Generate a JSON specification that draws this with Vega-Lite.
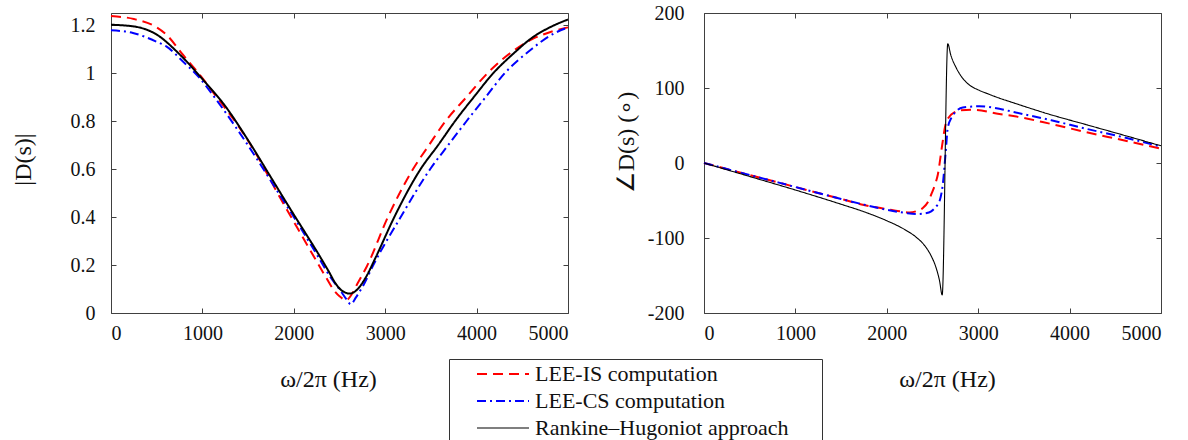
{
  "$schema": "https://vega.github.io/schema/vega-lite/v6.json",
  "padding": {"left": 11, "top": 3, "right": 5, "bottom": 0},
  "background": "white",
  "bounds": "flush",
  "spacing": 136,
  "config": {
    "font": "Liberation Serif",
    "view": {"stroke": null},
    "axis": {
      "grid": false,
      "domainColor": "#404040",
      "tickColor": "#404040",
      "tickSize": -5,
      "domainWidth": 1,
      "tickWidth": 1,
      "labelFont": "Liberation Serif",
      "labelFontSize": 20,
      "labelColor": "#111111",
      "titleFont": "Liberation Serif",
      "titleFontWeight": "normal",
      "titleColor": "#111111",
      "titleFontSize": 24
    }
  },
  "datasets": {
    "mag": [
      {"s": "LEE-IS computation", "f": 0, "v": 1.237},
      {"s": "LEE-IS computation", "f": 250, "v": 1.225},
      {"s": "LEE-IS computation", "f": 500, "v": 1.19},
      {"s": "LEE-IS computation", "f": 605, "v": 1.16},
      {"s": "LEE-IS computation", "f": 787, "v": 1.076},
      {"s": "LEE-IS computation", "f": 970, "v": 0.993},
      {"s": "LEE-IS computation", "f": 1152, "v": 0.902},
      {"s": "LEE-IS computation", "f": 1408, "v": 0.771},
      {"s": "LEE-IS computation", "f": 1600, "v": 0.655},
      {"s": "LEE-IS computation", "f": 1800, "v": 0.515},
      {"s": "LEE-IS computation", "f": 2064, "v": 0.338},
      {"s": "LEE-IS computation", "f": 2250, "v": 0.215},
      {"s": "LEE-IS computation", "f": 2350, "v": 0.15},
      {"s": "LEE-IS computation", "f": 2429, "v": 0.1},
      {"s": "LEE-IS computation", "f": 2500, "v": 0.07},
      {"s": "LEE-IS computation", "f": 2575, "v": 0.053},
      {"s": "LEE-IS computation", "f": 2620, "v": 0.07},
      {"s": "LEE-IS computation", "f": 2700, "v": 0.125},
      {"s": "LEE-IS computation", "f": 2800, "v": 0.195},
      {"s": "LEE-IS computation", "f": 3030, "v": 0.4},
      {"s": "LEE-IS computation", "f": 3305, "v": 0.6},
      {"s": "LEE-IS computation", "f": 3480, "v": 0.7},
      {"s": "LEE-IS computation", "f": 3661, "v": 0.8},
      {"s": "LEE-IS computation", "f": 3890, "v": 0.9},
      {"s": "LEE-IS computation", "f": 4121, "v": 1.0},
      {"s": "LEE-IS computation", "f": 4394, "v": 1.09},
      {"s": "LEE-IS computation", "f": 4603, "v": 1.14},
      {"s": "LEE-IS computation", "f": 4800, "v": 1.17},
      {"s": "LEE-IS computation", "f": 5000, "v": 1.19},
      {"s": "LEE-CS computation", "f": 0, "v": 1.178},
      {"s": "LEE-CS computation", "f": 240, "v": 1.167},
      {"s": "LEE-CS computation", "f": 500, "v": 1.13},
      {"s": "LEE-CS computation", "f": 605, "v": 1.111},
      {"s": "LEE-CS computation", "f": 787, "v": 1.048},
      {"s": "LEE-CS computation", "f": 970, "v": 0.979},
      {"s": "LEE-CS computation", "f": 1152, "v": 0.889},
      {"s": "LEE-CS computation", "f": 1371, "v": 0.771},
      {"s": "LEE-CS computation", "f": 1600, "v": 0.64},
      {"s": "LEE-CS computation", "f": 1800, "v": 0.52},
      {"s": "LEE-CS computation", "f": 2000, "v": 0.4},
      {"s": "LEE-CS computation", "f": 2250, "v": 0.245},
      {"s": "LEE-CS computation", "f": 2400, "v": 0.15},
      {"s": "LEE-CS computation", "f": 2520, "v": 0.088},
      {"s": "LEE-CS computation", "f": 2580, "v": 0.055},
      {"s": "LEE-CS computation", "f": 2623, "v": 0.036},
      {"s": "LEE-CS computation", "f": 2680, "v": 0.065},
      {"s": "LEE-CS computation", "f": 2760, "v": 0.115},
      {"s": "LEE-CS computation", "f": 2870, "v": 0.2},
      {"s": "LEE-CS computation", "f": 3170, "v": 0.4},
      {"s": "LEE-CS computation", "f": 3493, "v": 0.6},
      {"s": "LEE-CS computation", "f": 3690, "v": 0.7},
      {"s": "LEE-CS computation", "f": 3891, "v": 0.8},
      {"s": "LEE-CS computation", "f": 4100, "v": 0.9},
      {"s": "LEE-CS computation", "f": 4310, "v": 1.0},
      {"s": "LEE-CS computation", "f": 4603, "v": 1.1},
      {"s": "LEE-CS computation", "f": 4800, "v": 1.155},
      {"s": "LEE-CS computation", "f": 5000, "v": 1.19},
      {"s": "Rankine–Hugoniot approach", "f": 0, "v": 1.201},
      {"s": "Rankine–Hugoniot approach", "f": 250, "v": 1.194},
      {"s": "Rankine–Hugoniot approach", "f": 500, "v": 1.16},
      {"s": "Rankine–Hugoniot approach", "f": 750, "v": 1.078},
      {"s": "Rankine–Hugoniot approach", "f": 1000, "v": 0.975},
      {"s": "Rankine–Hugoniot approach", "f": 1250, "v": 0.862},
      {"s": "Rankine–Hugoniot approach", "f": 1500, "v": 0.72},
      {"s": "Rankine–Hugoniot approach", "f": 1750, "v": 0.565},
      {"s": "Rankine–Hugoniot approach", "f": 2000, "v": 0.41},
      {"s": "Rankine–Hugoniot approach", "f": 2119, "v": 0.338},
      {"s": "Rankine–Hugoniot approach", "f": 2250, "v": 0.258},
      {"s": "Rankine–Hugoniot approach", "f": 2375, "v": 0.178},
      {"s": "Rankine–Hugoniot approach", "f": 2466, "v": 0.118},
      {"s": "Rankine–Hugoniot approach", "f": 2530, "v": 0.092},
      {"s": "Rankine–Hugoniot approach", "f": 2580, "v": 0.083},
      {"s": "Rankine–Hugoniot approach", "f": 2612, "v": 0.081},
      {"s": "Rankine–Hugoniot approach", "f": 2650, "v": 0.085},
      {"s": "Rankine–Hugoniot approach", "f": 2700, "v": 0.1},
      {"s": "Rankine–Hugoniot approach", "f": 2790, "v": 0.15},
      {"s": "Rankine–Hugoniot approach", "f": 2900, "v": 0.235},
      {"s": "Rankine–Hugoniot approach", "f": 3100, "v": 0.4},
      {"s": "Rankine–Hugoniot approach", "f": 3388, "v": 0.6},
      {"s": "Rankine–Hugoniot approach", "f": 3580, "v": 0.7},
      {"s": "Rankine–Hugoniot approach", "f": 3765, "v": 0.8},
      {"s": "Rankine–Hugoniot approach", "f": 3970, "v": 0.9},
      {"s": "Rankine–Hugoniot approach", "f": 4184, "v": 1.0},
      {"s": "Rankine–Hugoniot approach", "f": 4415, "v": 1.085},
      {"s": "Rankine–Hugoniot approach", "f": 4600, "v": 1.145},
      {"s": "Rankine–Hugoniot approach", "f": 4800, "v": 1.19},
      {"s": "Rankine–Hugoniot approach", "f": 5000, "v": 1.223}
    ],
    "phase": [
      {"s": "LEE-IS computation", "f": 0, "v": 0},
      {"s": "LEE-IS computation", "f": 500, "v": -16},
      {"s": "LEE-IS computation", "f": 1000, "v": -32},
      {"s": "LEE-IS computation", "f": 1500, "v": -48},
      {"s": "LEE-IS computation", "f": 1750, "v": -56},
      {"s": "LEE-IS computation", "f": 2000, "v": -61.5},
      {"s": "LEE-IS computation", "f": 2140, "v": -64.4},
      {"s": "LEE-IS computation", "f": 2250, "v": -66},
      {"s": "LEE-IS computation", "f": 2330, "v": -64},
      {"s": "LEE-IS computation", "f": 2394, "v": -60},
      {"s": "LEE-IS computation", "f": 2450, "v": -52},
      {"s": "LEE-IS computation", "f": 2486, "v": -42},
      {"s": "LEE-IS computation", "f": 2530, "v": -28},
      {"s": "LEE-IS computation", "f": 2558, "v": -15.6},
      {"s": "LEE-IS computation", "f": 2606, "v": 24},
      {"s": "LEE-IS computation", "f": 2642, "v": 51},
      {"s": "LEE-IS computation", "f": 2686, "v": 62},
      {"s": "LEE-IS computation", "f": 2740, "v": 67.5},
      {"s": "LEE-IS computation", "f": 2795, "v": 70},
      {"s": "LEE-IS computation", "f": 2940, "v": 71},
      {"s": "LEE-IS computation", "f": 3231, "v": 65.3},
      {"s": "LEE-IS computation", "f": 3367, "v": 63},
      {"s": "LEE-IS computation", "f": 3800, "v": 52},
      {"s": "LEE-IS computation", "f": 4186, "v": 41},
      {"s": "LEE-IS computation", "f": 4600, "v": 30},
      {"s": "LEE-IS computation", "f": 5000, "v": 19},
      {"s": "LEE-CS computation", "f": 0, "v": 0},
      {"s": "LEE-CS computation", "f": 500, "v": -16},
      {"s": "LEE-CS computation", "f": 1000, "v": -32},
      {"s": "LEE-CS computation", "f": 1500, "v": -48},
      {"s": "LEE-CS computation", "f": 1750, "v": -55.5},
      {"s": "LEE-CS computation", "f": 2067, "v": -64},
      {"s": "LEE-CS computation", "f": 2200, "v": -66.5},
      {"s": "LEE-CS computation", "f": 2322, "v": -68},
      {"s": "LEE-CS computation", "f": 2420, "v": -67},
      {"s": "LEE-CS computation", "f": 2486, "v": -64.4},
      {"s": "LEE-CS computation", "f": 2540, "v": -58},
      {"s": "LEE-CS computation", "f": 2577, "v": -51},
      {"s": "LEE-CS computation", "f": 2612, "v": -29},
      {"s": "LEE-CS computation", "f": 2642, "v": 11},
      {"s": "LEE-CS computation", "f": 2667, "v": 46.7},
      {"s": "LEE-CS computation", "f": 2710, "v": 61},
      {"s": "LEE-CS computation", "f": 2759, "v": 69},
      {"s": "LEE-CS computation", "f": 2831, "v": 74},
      {"s": "LEE-CS computation", "f": 3013, "v": 75.6},
      {"s": "LEE-CS computation", "f": 3231, "v": 72.4},
      {"s": "LEE-CS computation", "f": 3367, "v": 68.6},
      {"s": "LEE-CS computation", "f": 3800, "v": 57},
      {"s": "LEE-CS computation", "f": 4186, "v": 45.5},
      {"s": "LEE-CS computation", "f": 4600, "v": 34},
      {"s": "LEE-CS computation", "f": 5000, "v": 22},
      {"s": "Rankine–Hugoniot approach", "f": 0, "v": 0},
      {"s": "Rankine–Hugoniot approach", "f": 500, "v": -18},
      {"s": "Rankine–Hugoniot approach", "f": 1000, "v": -36},
      {"s": "Rankine–Hugoniot approach", "f": 1500, "v": -55},
      {"s": "Rankine–Hugoniot approach", "f": 1750, "v": -65},
      {"s": "Rankine–Hugoniot approach", "f": 2000, "v": -77},
      {"s": "Rankine–Hugoniot approach", "f": 2200, "v": -89},
      {"s": "Rankine–Hugoniot approach", "f": 2322, "v": -99},
      {"s": "Rankine–Hugoniot approach", "f": 2420, "v": -111},
      {"s": "Rankine–Hugoniot approach", "f": 2486, "v": -124},
      {"s": "Rankine–Hugoniot approach", "f": 2540, "v": -140},
      {"s": "Rankine–Hugoniot approach", "f": 2577, "v": -157},
      {"s": "Rankine–Hugoniot approach", "f": 2606, "v": -176},
      {"s": "Rankine–Hugoniot approach", "f": 2667, "v": 159},
      {"s": "Rankine–Hugoniot approach", "f": 2700, "v": 144},
      {"s": "Rankine–Hugoniot approach", "f": 2759, "v": 127},
      {"s": "Rankine–Hugoniot approach", "f": 2830, "v": 113},
      {"s": "Rankine–Hugoniot approach", "f": 2904, "v": 104},
      {"s": "Rankine–Hugoniot approach", "f": 3000, "v": 97.5},
      {"s": "Rankine–Hugoniot approach", "f": 3100, "v": 92.5},
      {"s": "Rankine–Hugoniot approach", "f": 3231, "v": 86.5},
      {"s": "Rankine–Hugoniot approach", "f": 3367, "v": 81},
      {"s": "Rankine–Hugoniot approach", "f": 3777, "v": 65},
      {"s": "Rankine–Hugoniot approach", "f": 4186, "v": 51},
      {"s": "Rankine–Hugoniot approach", "f": 4595, "v": 37},
      {"s": "Rankine–Hugoniot approach", "f": 5000, "v": 23}
    ]
  },
  "hconcat": [
    {
      "width": 457,
      "height": 300,
      "data": {"name": "mag"},
      "layer": [
        {
          "mark": {"type": "line", "strokeWidth": 2, "interpolate": "monotone"},
          "encoding": {
            "x": {"field": "f", "type": "quantitative", "scale": {"domain": [0, 5000], "nice": false, "zero": false},
              "axis": {"values": [0, 1000, 2000, 3000, 4000, 5000], "labelExpr": "'' + datum.value", "labelPadding": 25, "labelBaseline": "middle", "title": "ω/2π (Hz)", "titleX": 217, "titleY": 54}},
            "y": {"field": "v", "type": "quantitative", "scale": {"domain": [0, 1.25], "nice": false},
              "axis": {"values": [0, 0.2, 0.4, 0.6, 0.8, 1, 1.2], "labelExpr": "'' + datum.value", "labelPadding": 21, "title": "|D(s)|", "titleX": -88, "titleY": 146, "titleAngle": -90, "titleAlign": "center", "titleBaseline": "middle"}},
            "color": {"field": "s", "type": "nominal",
              "scale": {"domain": ["LEE-IS computation", "LEE-CS computation", "Rankine–Hugoniot approach"], "range": ["#ff0000", "#0000ff", "#000000"]},
              "legend": {"orient": "none", "legendX": 338, "legendY": 346, "title": "MMM", "titleOrient": "right", "titleFontSize": 10, "titleOpacity": 0, "titlePadding": 0, "symbolType": "M-2.6,0H2.6", "symbolSize": 400, "symbolStrokeWidth": 2, "labelFontSize": 22, "labelFont": "Liberation Serif", "labelColor": "#111111", "strokeColor": "#333333", "fillColor": "white", "padding": 4, "rowPadding": 5, "labelOffset": 21, "symbolOffset": 39, "labelLimit": 0,
                "encode": {"symbols": {"update": {"strokeWidth": {"signal": "datum.value === 'Rankine–Hugoniot approach' ? 1.2 : 2"}}}}}},
            "strokeDash": {"field": "s", "type": "nominal",
              "scale": {"domain": ["LEE-IS computation", "LEE-CS computation", "Rankine–Hugoniot approach"], "range": [[10, 6], [9, 4, 2, 4], [1, 0]]}}
          }
        },
        {
          "mark": {"type": "line", "opacity": 0},
          "encoding": {
            "x": {"field": "f", "type": "quantitative", "axis": {"orient": "top", "labels": false, "title": null, "values": [0, 1000, 2000, 3000, 4000, 5000]}},
            "y": {"field": "v", "type": "quantitative", "axis": {"orient": "right", "labels": false, "title": null, "values": [0, 0.2, 0.4, 0.6, 0.8, 1, 1.2]}},
            "detail": {"field": "s"}
          }
        }
      ],
      "resolve": {"axis": {"x": "independent", "y": "independent"}}
    },
    {
      "width": 457,
      "height": 300,
      "data": {"name": "phase"},
      "layer": [
        {
          "transform": [{"filter": "datum.s !== 'Rankine–Hugoniot approach'"}],
          "mark": {"type": "line", "strokeWidth": 2, "interpolate": "monotone"},
          "encoding": {
            "x": {"field": "f", "type": "quantitative", "scale": {"domain": [0, 5000], "nice": false, "zero": false},
              "axis": {"values": [0, 1000, 2000, 3000, 4000, 5000], "labelExpr": "'' + datum.value", "labelPadding": 25, "labelBaseline": "middle", "title": "ω/2π (Hz)", "titleX": 243, "titleY": 54}},
            "y": {"field": "v", "type": "quantitative", "scale": {"domain": [-200, 200], "nice": false},
              "axis": {"values": [-200, -100, 0, 100, 200], "labelExpr": "'' + datum.value", "labelPadding": 25, "title": "∠D(s) (∘)", "titleX": -78, "titleY": 129, "titleAngle": -90, "titleAlign": "center", "titleBaseline": "middle"}},
            "color": {"field": "s", "type": "nominal"},
            "strokeDash": {"field": "s", "type": "nominal"}
          }
        },
        {
          "transform": [{"filter": "datum.s === 'Rankine–Hugoniot approach'"}],
          "mark": {"type": "line", "strokeWidth": 1.1, "interpolate": "monotone"},
          "encoding": {
            "x": {"field": "f", "type": "quantitative", "axis": null},
            "y": {"field": "v", "type": "quantitative", "axis": null},
            "color": {"field": "s", "type": "nominal"},
            "strokeDash": {"field": "s", "type": "nominal"}
          }
        },
        {
          "mark": {"type": "line", "opacity": 0},
          "encoding": {
            "x": {"field": "f", "type": "quantitative", "axis": {"orient": "top", "labels": false, "title": null, "values": [0, 1000, 2000, 3000, 4000, 5000]}},
            "y": {"field": "v", "type": "quantitative", "axis": {"orient": "right", "labels": false, "title": null, "values": [-200, -100, 0, 100, 200]}},
            "detail": {"field": "s"}
          }
        }
      ],
      "resolve": {"axis": {"x": "independent", "y": "independent"}}
    }
  ]
}
